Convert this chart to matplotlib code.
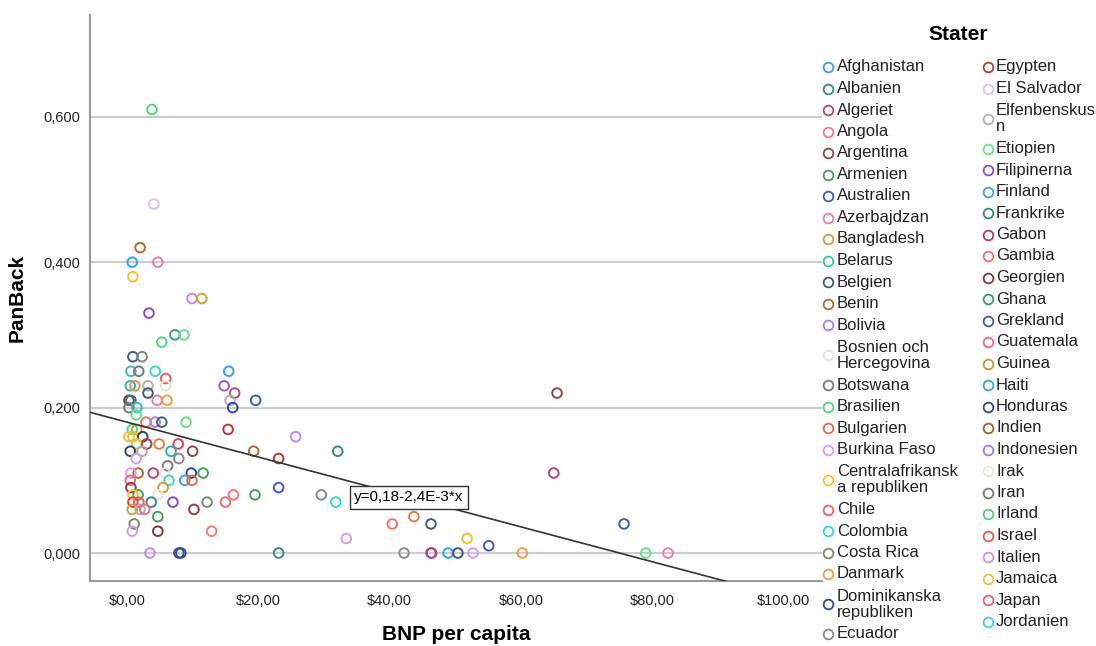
import matplotlib
matplotlib.use("Agg")
import matplotlib.pyplot as plt
from matplotlib.ticker import FuncFormatter

plt.rcParams['font.family'] = ['Liberation Sans', 'DejaVu Sans']

# BNP per capita (x) and PanBack (y)
bnp = [3.8, 4.1, 2.0, 0.8, 4.7, 0.9, 9.9, 11.4, 3.35, 7.3, 8.7, 5.3,
       0.9, 2.3, 0.6, 1.8, 4.3, 5.9, 0.5, 1.2, 3.2, 5.9, 3.2, 0.3, 0.6,
       4.6, 6.1, 0.3, 1.5, 1.4, 2.9, 4.3, 5.3, 9.0, 15.5, 14.8, 16.4,
       15.7, 19.6, 16.1, 15.4, 25.7, 19.3, 23.1, 11.6, 23.1, 12.2, 15.0,
       16.2, 19.5, 12.9, 23.1, 29.6, 32.1, 31.8, 33.4, 40.4, 43.7, 46.3,
       51.8, 55.1, 42.2, 46.3, 46.4, 48.9, 50.4, 52.7, 60.2, 65.5, 65.0,
       75.7, 79.0, 82.4, 0.8, 1.5, 0.3, 0.9, 2.4, 1.5, 3.0, 4.9, 7.8, 0.5,
       2.3, 6.7, 10.0, 1.4, 7.9, 6.2, 5.8, 4.0, 1.7, 0.6, 9.8, 0.5, 6.4,
       8.8, 9.9, 0.6, 5.5, 4.7, 1.7, 0.9, 0.9, 1.8, 3.7, 7.0, 0.8, 2.0,
       2.7, 10.2, 4.7, 1.1, 0.8, 4.7, 3.5, 7.9, 8.2]
panback = [0.61, 0.48, 0.42, 0.40, 0.40, 0.38, 0.35, 0.35, 0.33, 0.30, 0.30, 0.29,
           0.27, 0.27, 0.25, 0.25, 0.25, 0.24, 0.23, 0.23, 0.23, 0.23, 0.22, 0.21, 0.21,
           0.21, 0.21, 0.20, 0.20, 0.19, 0.18, 0.18, 0.18, 0.18, 0.25, 0.23, 0.22,
           0.21, 0.21, 0.20, 0.17, 0.16, 0.14, 0.13, 0.11, 0.09, 0.07, 0.07,
           0.08, 0.08, 0.03, 0.00, 0.08, 0.14, 0.07, 0.02, 0.04, 0.05, 0.04,
           0.02, 0.01, 0.00, 0.00, 0.00, 0.00, 0.00, 0.00, 0.00, 0.22, 0.11,
           0.04, 0.00, 0.00, 0.17, 0.17, 0.16, 0.16, 0.16, 0.15, 0.15, 0.15, 0.15, 0.14,
           0.14, 0.14, 0.14, 0.13, 0.13, 0.12, 0.11, 0.11, 0.11, 0.11, 0.11, 0.10, 0.10,
           0.10, 0.10, 0.09, 0.09, 0.08, 0.08, 0.08, 0.07, 0.07, 0.07, 0.07, 0.06, 0.06,
           0.06, 0.06, 0.05, 0.04, 0.03, 0.03, 0.00, 0.00, 0.00]
point_colors = ['#55d67d', '#dcc0f0', '#b06a2f', '#3aa0f0', '#f27ca0', '#f2c230', '#c08af2',
                '#c9a437', '#8a4ad6', '#3a9a8a', '#6be08a', '#55d67d', '#3f5a9c', '#7a8c6a',
                '#3bbcbc', '#7a7a7a', '#3bd6d6', '#f25a5a', '#30b0c0', '#e2904a', '#b0b0b0',
                '#e8e4d8', '#3f5a7d', '#7a3a3a', '#3a7a7a', '#f27ca0', '#f2a040', '#7a7a7a',
                '#3bbcbc', '#6be08a', '#f27070', '#b57cf2', '#3a6a7a', '#6be08a', '#3aa0f0',
                '#9a5ae0', '#b5477a', '#b0b0b0', '#3f5cc4', '#2f4a9c', '#b53a3a', '#c08af2',
                '#b06a2f', '#b53a3a', '#4aa15a', '#3f5cc4', '#7a8c6a', '#f27070', '#f27c7c',
                '#4aa15a', '#f27c7c', '#3c8c84', '#8a8a8a', '#3a8a7a', '#3bd6d6', '#d59cf0',
                '#f27070', '#e2804a', '#3f5a7d', '#f2c230', '#3f5cc4', '#8a8a8a', '#8a4ad6',
                '#b5477a', '#3aa0f0', '#3f5a7d', '#d59cf0', '#f2a040', '#8c4a4a', '#b5477a',
                '#3f5cc4', '#6be08a', '#f27ca0', '#55d67d', '#c9a437', '#f2c230', '#e0c040',
                '#2f4a70', '#f2c230', '#b53a3a', '#e2804a', '#e04050', '#2f4a70', '#aaaaaa',
                '#30b0b0', '#8c4a4a', '#d59cf0', '#8a8a8a', '#7a7a7a', '#e8e4d8', '#b5477a',
                '#b06a2f', '#d59cf0', '#2f4a9c', '#f06a8a', '#3bd6d6', '#3aa0f0', '#e2684a',
                '#8c3a5a', '#c9a437', '#e8e4d8', '#4aa15a', '#f2c230', '#e04050', '#e06050',
                '#3a8a8a', '#8a4ad6', '#c9a437', '#b0b0b0', '#f06a8a', '#a03a3a', '#4aa15a',
                '#7a8c6a', '#d59cf0', '#7a3a3a', '#c08af2', '#3f5a7d', '#2f4a9c']

# fit line: y = 0.18 - 2.4E-3 * x
intercept = 0.18
slope = -0.0024

col1 = ['Afghanistan', 'Albanien', 'Algeriet', 'Angola', 'Argentina', 'Armenien',
        'Australien', 'Azerbajdzan', 'Bangladesh', 'Belarus', 'Belgien', 'Benin',
        'Bolivia', 'Bosnien och\nHercegovina', 'Botswana', 'Brasilien', 'Bulgarien',
        'Burkina Faso', 'Centralafrikansk\na republiken', 'Chile', 'Colombia',
        'Costa Rica', 'Danmark', 'Dominikanska\nrepubliken', 'Ecuador']
col1_colors = ['#3a9de0', '#3c8c84', '#b5477a', '#f27c7c', '#8c4a4a', '#4aa15a',
               '#3f5cc4', '#f27ca0', '#c9a437', '#3bbcbc', '#3f5a7d', '#b06a2f',
               '#b57cf2', '#e8e4d8', '#7a7a7a', '#55d67d', '#e2684a', '#d59cf0',
               '#f2c230', '#f26262', '#3bd6d6', '#7a8c6a', '#f2a040', '#2f4a9c', '#8a8a8a']
col2 = ['Egypten', 'El Salvador', 'Elfenbenskus\nn', 'Etiopien', 'Filipinerna',
        'Finland', 'Frankrike', 'Gabon', 'Gambia', 'Georgien', 'Ghana', 'Grekland',
        'Guatemala', 'Guinea', 'Haiti', 'Honduras', 'Indien', 'Indonesien', 'Irak',
        'Iran', 'Irland', 'Israel', 'Italien', 'Jamaica', 'Japan', 'Jordanien']
col2_colors = ['#b53a3a', '#e0c0f0', '#b0b0b0', '#6be08a', '#8a4ad6', '#3aa0f0',
               '#3a8a7a', '#b03a6a', '#f27070', '#7a3a3a', '#3a9a6a', '#3a5ab0',
               '#f06a8a', '#c09a30', '#30b0b0', '#2f4a70', '#a0602a', '#a07af0',
               '#eae6d6', '#7a7a7a', '#5ac880', '#e06050', '#d090e8', '#f0c040',
               '#f06070', '#40d0e0']

fig = plt.figure(figsize=(10.96, 6.46), dpi=100)
ax = fig.add_axes([90/1096, 1 - 580.5/646, 732/1096, 565.5/646])

ax.scatter(bnp, panback, s=48, facecolors='none', edgecolors=point_colors,
           linewidths=1.4, zorder=3)

xmin, xmax = -5.63, 105.85
ax.set_xlim(xmin, xmax)
ax.set_ylim(-0.0378, 0.740)
ax.plot([xmin, xmax], [intercept + slope * xmin, intercept + slope * xmax],
        color='#333333', lw=1.2, zorder=4)
ax.text(42.95, 0.0764, 'y=0,18-2,4E-3*x', fontsize=11, ha='center', va='center',
        zorder=5, bbox=dict(boxstyle='square,pad=0.3', fc='white', ec='#333333', lw=1.0))

ax.set_yticks([0, 0.2, 0.4, 0.6])
ax.set_xticks([0, 20, 40, 60, 80, 100])
ax.yaxis.set_major_formatter(FuncFormatter(lambda v, p: f'{v:.3f}'.replace('.', ',')))
ax.xaxis.set_major_formatter(FuncFormatter(lambda v, p: f'${v:.2f}'.replace('.', ',')))
ax.tick_params(length=0, labelsize=10.5, colors='#222222')
ax.tick_params(axis='y', pad=7)
ax.tick_params(axis='x', pad=10)
ax.yaxis.grid(True, color='#cccccc', lw=1.5)
ax.set_axisbelow(True)
for side in ['top', 'right']:
    ax.spines[side].set_visible(False)
for side in ['left', 'bottom']:
    ax.spines[side].set_color('#999999')
    ax.spines[side].set_linewidth(1.5)

ax.set_xlabel('BNP per capita', fontsize=15, fontweight='bold')
ax.set_ylabel('PanBack', fontsize=15, fontweight='bold')
ax.xaxis.set_label_coords(0.5, -0.079)
ax.yaxis.set_label_coords(-0.086, 0.5)

# legend drawn by hand in pixel coordinates
lax = fig.add_axes([0, 0, 1, 1], zorder=-1)
lax.set_xlim(0, 1096)
lax.set_ylim(646, 0)
lax.axis('off')
lax.text(958, 35, 'Stater', fontsize=15, fontweight='bold', ha='center', va='center')

def draw_column(labels, colors, mx, tx):
    y = 67
    for lab, c in zip(labels, colors):
        n = lab.count('\n')
        yc = y + n * 17.5 / 2
        lax.plot(mx, yc, 'o', ms=7, mfc='none', mec=c, mew=1.3)
        lax.text(tx, yc, lab, fontsize=12, ha='left', va='center',
                 linespacing=1.05, color='#222222')
        y += 21.5 + n * 17

draw_column(col1, col1_colors, 828, 837)
draw_column(col2, col2_colors, 988, 996)

fig.savefig('out.png', dpi=100)
